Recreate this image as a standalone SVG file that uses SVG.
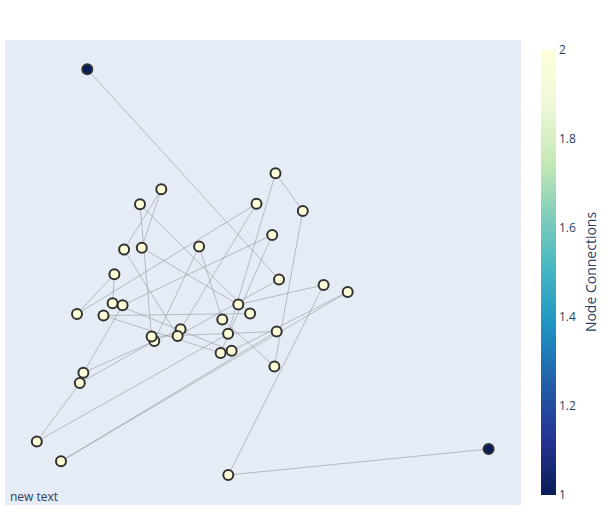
<svg xmlns="http://www.w3.org/2000/svg" width="613" height="525" viewBox="0 0 613 525">
<defs>
<linearGradient id="cbar" x1="0" y1="1" x2="0" y2="0">
<stop offset="0" stop-color="rgb(8,29,88)"/>
<stop offset="0.125" stop-color="rgb(37,52,148)"/>
<stop offset="0.25" stop-color="rgb(34,94,168)"/>
<stop offset="0.375" stop-color="rgb(29,145,192)"/>
<stop offset="0.5" stop-color="rgb(65,182,196)"/>
<stop offset="0.625" stop-color="rgb(127,205,187)"/>
<stop offset="0.75" stop-color="rgb(199,233,180)"/>
<stop offset="0.875" stop-color="rgb(237,248,217)"/>
<stop offset="1" stop-color="rgb(255,255,217)"/>
</linearGradient>
</defs>
<style>
.edge{stroke:#888;stroke-width:0.5;fill:none}
.n2{fill:rgb(255,255,217);stroke:rgb(50,50,50);stroke-width:2}
.n1{fill:rgb(8,29,88);stroke:rgb(50,50,50);stroke-width:2}
.t{font-family:"Open Sans","Liberation Sans",sans-serif;font-size:12px;fill:#2a3f5f}
.title{font-family:"Open Sans","Liberation Sans",sans-serif;font-size:14px;fill:#2a3f5f}
</style>
<rect x="0" y="0" width="613" height="525" fill="#fff"/>
<rect x="5" y="40" width="516" height="465" fill="#E5ECF6"/>
<g id="connectors">
<line class="edge" x1="87.3" y1="69.3" x2="279" y2="279.5"/>
<line class="edge" x1="488.6" y1="449" x2="228.3" y2="475"/>
<line class="edge" x1="228.3" y1="475" x2="323.6" y2="284.9"/>
<line class="edge" x1="323.6" y1="284.9" x2="238.3" y2="304.6"/>
<line class="edge" x1="275.5" y1="173.3" x2="302.8" y2="211"/>
<line class="edge" x1="161.3" y1="189.3" x2="124.1" y2="249.6"/>
<line class="edge" x1="161.3" y1="189.3" x2="141.8" y2="247.8"/>
<line class="edge" x1="77" y1="314" x2="114.4" y2="274.2"/>
<line class="edge" x1="77" y1="314" x2="256.5" y2="203.8"/>
<line class="edge" x1="114.4" y1="274.2" x2="112.6" y2="303.2"/>
<line class="edge" x1="122.6" y1="305.3" x2="272.2" y2="235"/>
<line class="edge" x1="36.8" y1="441.5" x2="79.8" y2="383"/>
<line class="edge" x1="83.4" y1="372.7" x2="122.6" y2="305.3"/>
<line class="edge" x1="36.8" y1="441.5" x2="228.1" y2="333.8"/>
<line class="edge" x1="61" y1="461.3" x2="276.7" y2="331.4"/>
<line class="edge" x1="61" y1="461.3" x2="347.7" y2="292"/>
<line class="edge" x1="302.8" y1="211" x2="274.4" y2="366.4"/>
<line class="edge" x1="275.5" y1="173.3" x2="228.1" y2="333.8"/>
<line class="edge" x1="141.8" y1="247.8" x2="238.3" y2="304.6"/>
<line class="edge" x1="140" y1="204.3" x2="151.6" y2="336.6"/>
<line class="edge" x1="140" y1="204.3" x2="250.1" y2="313.5"/>
<line class="edge" x1="124.1" y1="249.6" x2="177.6" y2="336"/>
<line class="edge" x1="256.5" y1="203.8" x2="180.6" y2="329.3"/>
<line class="edge" x1="199.1" y1="246.6" x2="154.3" y2="341"/>
<line class="edge" x1="199.1" y1="246.6" x2="222.3" y2="319.5"/>
<line class="edge" x1="272.2" y1="235" x2="220.6" y2="352.9"/>
<line class="edge" x1="279" y1="279.5" x2="177.6" y2="336"/>
<line class="edge" x1="347.7" y1="292" x2="231.6" y2="350.8"/>
<line class="edge" x1="276.7" y1="331.4" x2="151.6" y2="336.6"/>
<line class="edge" x1="79.8" y1="383" x2="154.3" y2="341"/>
<line class="edge" x1="83.4" y1="372.7" x2="180.6" y2="329.3"/>
<line class="edge" x1="103.5" y1="315.6" x2="220.6" y2="352.9"/>
<line class="edge" x1="112.6" y1="303.2" x2="231.6" y2="350.8"/>
<line class="edge" x1="222.3" y1="319.5" x2="274.4" y2="366.4"/>
<line class="edge" x1="103.5" y1="315.6" x2="250.1" y2="313.5"/>
</g>
<g id="nodes">
<g id="n1"><circle class="n1" cx="87.3" cy="69.3" r="5"/></g>
<g id="n2"><circle class="n1" cx="488.6" cy="449" r="5"/></g>
<g id="n3"><circle class="n2" cx="275.5" cy="173.3" r="5"/></g>
<g id="n4"><circle class="n2" cx="302.8" cy="211" r="5"/></g>
<g id="n5"><circle class="n2" cx="161.3" cy="189.3" r="5"/></g>
<g id="n6"><circle class="n2" cx="140" cy="204.3" r="5"/></g>
<g id="n7"><circle class="n2" cx="256.5" cy="203.8" r="5"/></g>
<g id="n8"><circle class="n2" cx="272.2" cy="235" r="5"/></g>
<g id="n9"><circle class="n2" cx="124.1" cy="249.6" r="5"/></g>
<g id="n10"><circle class="n2" cx="141.8" cy="247.8" r="5"/></g>
<g id="n11"><circle class="n2" cx="199.1" cy="246.6" r="5"/></g>
<g id="n12"><circle class="n2" cx="114.4" cy="274.2" r="5"/></g>
<g id="n13"><circle class="n2" cx="279" cy="279.5" r="5"/></g>
<g id="n14"><circle class="n2" cx="323.6" cy="284.9" r="5"/></g>
<g id="n15"><circle class="n2" cx="347.7" cy="292" r="5"/></g>
<g id="n16"><circle class="n2" cx="77" cy="314" r="5"/></g>
<g id="n17"><circle class="n2" cx="103.5" cy="315.6" r="5"/></g>
<g id="n18"><circle class="n2" cx="112.6" cy="303.2" r="5"/></g>
<g id="n19"><circle class="n2" cx="122.6" cy="305.3" r="5"/></g>
<g id="n20"><circle class="n2" cx="238.3" cy="304.6" r="5"/></g>
<g id="n21"><circle class="n2" cx="250.1" cy="313.5" r="5"/></g>
<g id="n22"><circle class="n2" cx="222.3" cy="319.5" r="5"/></g>
<g id="n23"><circle class="n2" cx="180.6" cy="329.3" r="5"/></g>
<g id="n24"><circle class="n2" cx="228.1" cy="333.8" r="5"/></g>
<g id="n25"><circle class="n2" cx="276.7" cy="331.4" r="5"/></g>
<g id="n27"><circle class="n2" cx="154.3" cy="341" r="5"/></g>
<g id="n26"><circle class="n2" cx="151.6" cy="336.6" r="5"/></g>
<g id="n28"><circle class="n2" cx="177.6" cy="336" r="5"/></g>
<g id="n29"><circle class="n2" cx="220.6" cy="352.9" r="5"/></g>
<g id="n30"><circle class="n2" cx="231.6" cy="350.8" r="5"/></g>
<g id="n31"><circle class="n2" cx="274.4" cy="366.4" r="5"/></g>
<g id="n32"><circle class="n2" cx="83.4" cy="372.7" r="5"/></g>
<g id="n33"><circle class="n2" cx="79.8" cy="383" r="5"/></g>
<g id="n34"><circle class="n2" cx="36.8" cy="441.5" r="5"/></g>
<g id="n35"><circle class="n2" cx="61" cy="461.3" r="5"/></g>
<g id="n36"><circle class="n2" cx="228.3" cy="475" r="5"/></g>
</g>
<text class="t" x="10" y="501">new text</text>
<g id="colorbar">
<rect x="541" y="50" width="15" height="445" fill="url(#cbar)"/>
<text class="t" x="559" y="499">1</text>
<text class="t" x="559" y="410">1.2</text>
<text class="t" x="559" y="321">1.4</text>
<text class="t" x="559" y="232">1.6</text>
<text class="t" x="559" y="143">1.8</text>
<text class="t" x="559" y="54">2</text>
<text class="title" transform="translate(596,272) rotate(-90)" text-anchor="middle">Node Connections</text>
</g>
</svg>
